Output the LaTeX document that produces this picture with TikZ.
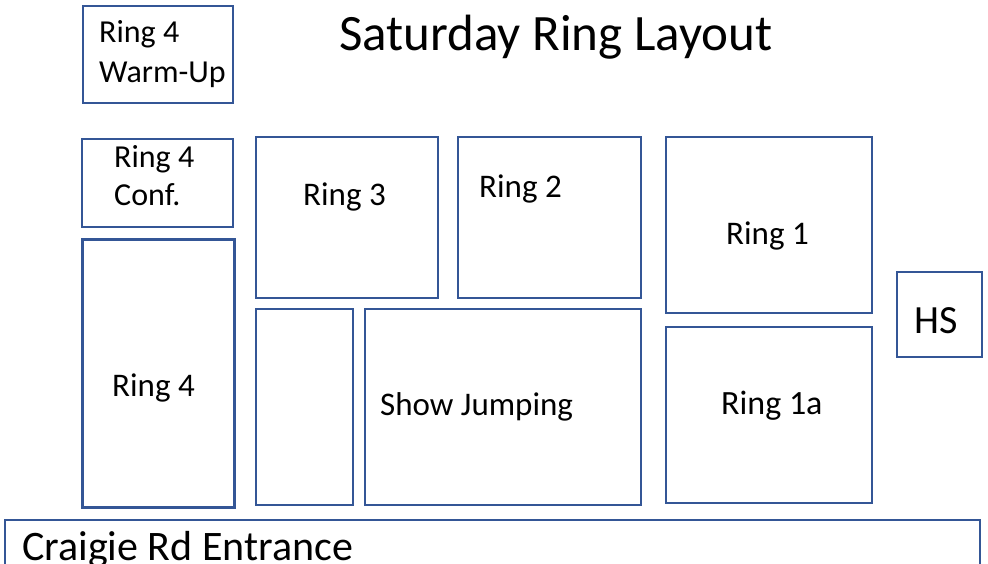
\documentclass[tikz,border=0pt]{standalone}
\usepackage{fontspec}
\setmainfont{Carlito}
\usetikzlibrary{positioning}
\definecolor{ringblue}{RGB}{52,86,150}
\tikzstyle{area}=[rectangle,draw=ringblue,line width=2pt,inner sep=0pt]
\tikzstyle{lbl}=[anchor=base west,inner sep=0pt,font=\fontsize{33}{40}\selectfont]

\begin{document}
\begin{tikzpicture}[x=1pt,y=-1pt]
        \useasboundingbox (0,0) rectangle (988,563);
        % boxes
        \node [area,minimum width=150,minimum height=97] (warm) at (158,54.5) {};
        \node [area,minimum width=151,minimum height=88] (conf) at (157.5,183) {};
        \node [area,line width=3pt,minimum width=152,minimum height=268] (r4) at (158,373) {};
        \node [area,minimum width=182,minimum height=161] (r3) at (347,217.5) {};
        \node [area,minimum width=183,minimum height=161] (r2) at (549.5,217.5) {};
        \node [area,minimum width=206,minimum height=176] (r1) at (769,225) {};
        \node [area,minimum width=85,minimum height=85] (hs) at (939.5,314.5) {};
        \node [area,minimum width=97,minimum height=196] (lane) at (304.5,407) {};
        \node [area,minimum width=276,minimum height=196] (sj) at (503,407) {};
        \node [area,minimum width=206,minimum height=176] (r1a) at (769,415) {};
        \node [area,minimum width=975,minimum height=60] (gate) at (492.5,550) {};

        % labels
        \node [lbl,font=\fontsize{51}{60}\selectfont] (title) at (339,50) {Saturday Ring Layout};
        \node [lbl,font=\fontsize{32}{40}\selectfont] (warm1) at (99,42) {Ring 4};
        \node [lbl,font=\fontsize{32}{40}\selectfont] (warm2) at (99,82) {Warm-Up};
        \node [lbl,font=\fontsize{32}{40}\selectfont] (conf1) at (114,167) {Ring 4};
        \node [lbl,font=\fontsize{32}{40}\selectfont] (conf2) at (114,205) {Conf.};
        \node [lbl] (r3t) at (303,205) {Ring 3};
        \node [lbl] (r2t) at (479,197) {Ring 2};
        \node [lbl] (r1t) at (726,244) {Ring 1};
        \node [lbl] (r4t) at (112,396) {Ring 4};
        \node [lbl] (sjt) at (380,415) {Show Jumping};
        \node [lbl,font=\fontsize{34}{40}\selectfont] (r1at) at (721,414) {Ring 1a};
        \node [lbl,font=\fontsize{40}{48}\selectfont] (hst) at (914,333) {HS};
        \node [lbl,font=\fontsize{42}{50}\selectfont] (gatet) at (22,560) {Craigie Rd Entrance};
      \end{tikzpicture}
\end{document}
